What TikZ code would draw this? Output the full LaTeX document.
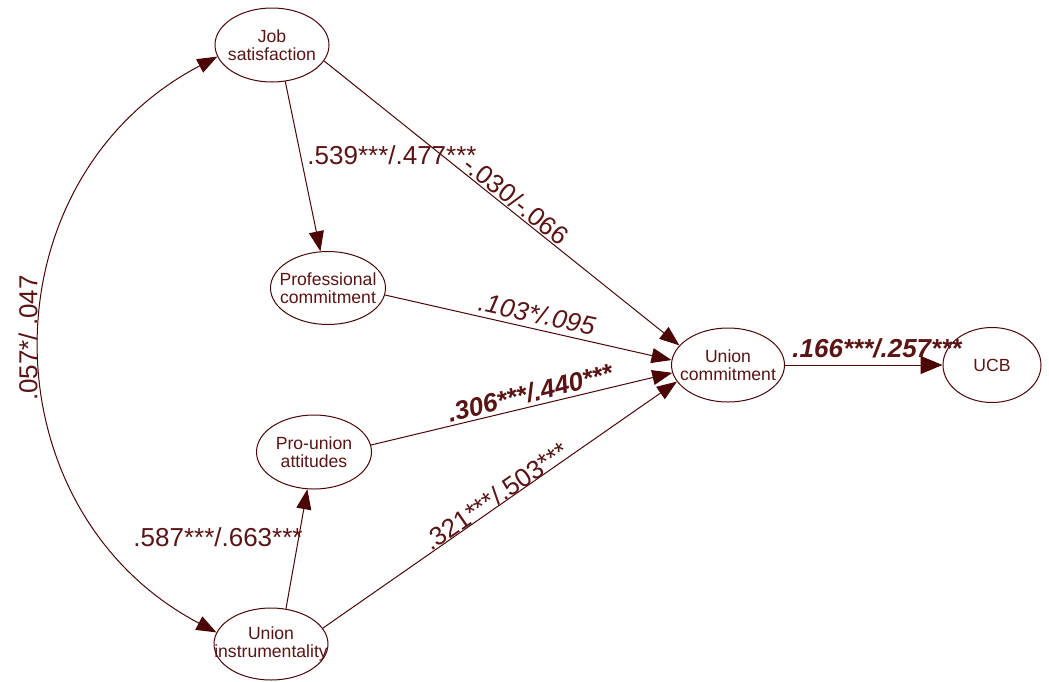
\documentclass[tikz,border=0pt]{standalone}
\usepackage{fontspec}
\setmainfont{Liberation Sans}
\usetikzlibrary{shapes.geometric,arrows.meta}
\definecolor{ln}{RGB}{75,5,5}
\definecolor{tx}{RGB}{90,20,20}
\begin{document}
\begin{tikzpicture}[x=0.5pt,y=-0.5pt,
  var/.style={ellipse,draw=ln,line width=0.5pt,inner sep=0pt,minimum width=57pt,minimum height=37pt,
    label={[text=tx,font=\fontsize{8.8}{9}\selectfont,align=center,inner sep=0pt]center:#1}},
  ar/.style={draw=ln,line width=0.5pt,-{Triangle[length=10pt,width=7.5pt]}},
  dar/.style={draw=ln,line width=0.5pt,{Triangle[length=10pt,width=7.5pt]}-{Triangle[length=10pt,width=7.5pt]}},
  lab/.style={text=tx,font=\fontsize{13}{13}\selectfont,inner sep=0pt},
  labi/.style={lab,font=\fontsize{13}{13}\selectfont\itshape},
  labb/.style={lab,font=\fontsize{13}{13}\selectfont\bfseries\itshape}]
\useasboundingbox (0,0) rectangle (1049,681);
\node[var={Job\\satisfaction}] (js) at (272,45) {};
\node[var={Professional\\commitment},minimum width=57.5pt,minimum height=36.5pt] (pc) at (328,288) {};
\node[var={Pro-union\\attitudes},minimum width=57.5pt] (pu) at (314,452) {};
\node[var={Union\\instrumentality},minimum height=36pt] (ui) at (271,644) {};
\node[var={Union\\commitment},minimum width=56.5pt] (uc) at (728,365) {};
\node[var={UCB},minimum width=49pt,minimum height=37.5pt] (ucb) at (992,365) {};

\draw[ar] (js.-70) -- (pc);
\draw[ar] (js.-17) -- (uc.158);
\draw[ar] (pc.-7) -- (uc.175);
\draw[ar] (pu.7) -- (uc.188);
\draw[ar] (ui.17) -- (uc.198);
\draw[ar] (ui.67) -- (pu);
\draw[draw=ln,line width=0.5pt,-{Triangle[length=11pt,width=9pt]}] (uc) -- (ucb);
\draw[dar] (js.192) .. controls (-18,180) and (-16,510) .. (ui.168);

\node[lab] (l1) at (392,155) {.539***/.477***};
\node[lab,rotate=-38.6] (l2) at (516,200) {-.030/-.066};
\node[labi,rotate=-12.4] (l3) at (537,314) {.103*/.095};
\node[labb,rotate=14] (l4) at (530,393) {.306***/.440***};
\node[lab,rotate=34.5] (l5) at (496,496) {.321***/.503***};
\node[lab] (l6) at (218,537) {.587***/.663***};
\node[labb] (l7) at (877,348) {.166***/.257***};
\node[lab,rotate=90] (l8) at (28,338) {.057*/ .047};
\end{tikzpicture}
\end{document}
